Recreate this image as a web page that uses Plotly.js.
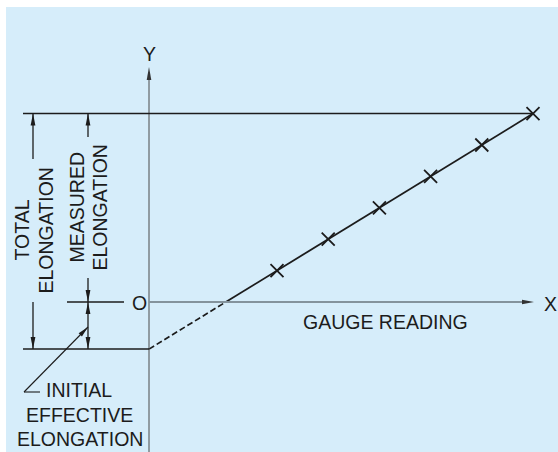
<!DOCTYPE html>
<html><head><meta charset="utf-8">
<script src="https://cdn.plot.ly/plotly-3.0.1.min.js"></script>
<style>html,body{margin:0;padding:0;background:#fff}#chart{width:558px;height:452px}</style>
</head><body><div id="chart"></div>
<script>
// ---- data (gauge reading vs elongation) ----
const gaugeReading = [2.5, 3.5, 4.5, 5.5, 6.5, 7.5];
const elongation   = [1.0, 2.0, 3.0, 4.0, 5.0, 6.0];
const axisLabels   = {x: 'X', y: 'Y', origin: 'O', xTitle: 'GAUGE READING'};
const dimLabels    = {total: ['TOTAL', 'ELONGATION'], measured: ['MEASURED', 'ELONGATION'],
                      initial: ['INITIAL', 'EFFECTIVE', 'ELONGATION']};

// ---- least-squares line through the readings ----
const n = gaugeReading.length;
const mx = gaugeReading.reduce((a, b) => a + b, 0) / n;
const my = elongation.reduce((a, b) => a + b, 0) / n;
let sxy = 0, sxx = 0;
for (let i = 0; i < n; i++) { sxy += (gaugeReading[i] - mx) * (elongation[i] - my); sxx += (gaugeReading[i] - mx) ** 2; }
const slope = sxy / sxx;
const intercept = my - slope * mx;          // initial effective elongation (negative)
const xCross = -intercept / slope;          // where the line meets the gauge axis
const totalElong = elongation[n - 1];
const lastGauge = gaugeReading[n - 1];

// ---- layout geometry (pixel frame of the drawing) ----
const W = 558, H = 452, OX = 149, OY = 302, KX = 51.2, KY = 31.4;
const X = px => (px - OX) / KX;
const Y = py => (OY - py) / KY;
const INK = '#1c1c1c';
const FONT = {family: 'Liberation Sans, Arial, sans-serif', size: 19.5, color: INK};

function line(x0, y0, x1, y1, color, width) {
  return {type: 'line', xref: 'x', yref: 'y', x0, y0, x1, y1, line: {color: color || INK, width: width || 1.4}};
}
function head(xt, yt, dxp, dyp, len, hw, color) {
  len = len || 12; hw = hw || 2.4;
  const m = Math.hypot(dxp, dyp), ux = dxp / m, uy = dyp / m;
  const tx = OX + xt * KX, ty = OY - yt * KY;
  const bx = tx - ux * len, by = ty - uy * len;
  const p1 = [bx - uy * hw, by + ux * hw], p2 = [bx + uy * hw, by - ux * hw];
  const path = `M${xt},${yt} L${X(p1[0])},${Y(p1[1])} L${X(p2[0])},${Y(p2[1])} Z`;
  return {type: 'path', xref: 'x', yref: 'y', path, fillcolor: color || INK, line: {width: 0}};
}

const xTotal = X(33), xMeas = X(88), xLeft = X(23);
const shapes = [
  {type: 'rect', xref: 'paper', yref: 'paper', x0: 6 / W, x1: 1, y0: 0, y1: 1 - 7 / H,
   fillcolor: '#d6edfa', line: {width: 0}, layer: 'below'},
  // Y axis
  line(0, Y(H), 0, Y(72), '#4a4a4a', 1),
  head(0, Y(67), 0, -1, 13, 2.3, '#333'),
  // X axis
  line(0, 0, X(524), 0, '#84939c', 2),
  head(X(534), 0, 1, 0, 12, 2.3, '#333'),
  // horizontal extension lines
  line(xLeft, totalElong, lastGauge, totalElong, INK, 1.5),
  line(xLeft, intercept, 0, intercept, INK, 1.5),
  line(X(67), 0, X(124), 0, INK, 1.4),
  // total elongation dimension
  line(xTotal, totalElong, xTotal, Y(159), INK, 1.3),
  head(xTotal, totalElong, 0, -1),
  line(xTotal, 0, xTotal, intercept, INK, 1.3),
  head(xTotal, intercept, 0, 1),
  // measured elongation dimension
  line(xMeas, totalElong, xMeas, Y(137), INK, 1.3),
  head(xMeas, totalElong, 0, -1),
  line(xMeas, Y(278), xMeas, intercept, INK, 1.3),
  head(xMeas, 0, 0, 1),
  head(xMeas, 0, 0, -1),
  head(xMeas, intercept, 0, 1),
  // leader for initial effective elongation
  line(X(24), Y(392), xMeas, Y(327), INK, 1.1),
  head(xMeas, Y(327), 64, -65, 11, 2.3),
  line(X(24), Y(392), X(40), Y(392), INK, 1.1)
];

const ann = (text, x, y, extra) => Object.assign({text, x, y, xref: 'x', yref: 'y', showarrow: false,
  font: FONT, xanchor: 'center', yanchor: 'middle'}, extra || {});
const annotations = [
  ann(axisLabels.y, 0, Y(54)),
  ann(axisLabels.x, X(550.5), Y(303.5)),
  ann(axisLabels.origin, X(139.5), Y(303)),
  ann(axisLabels.xTitle, X(385), Y(321.5)),
  ann(dimLabels.total[0], X(21.5), Y(230), {textangle: -90}),
  ann(dimLabels.total[1], X(45.5), Y(231), {textangle: -90}),
  ann(dimLabels.measured[0], X(76), Y(207.5), {textangle: -90}),
  ann(dimLabels.measured[1], X(99.5), Y(208), {textangle: -90}),
  ann(dimLabels.initial[0], X(79), Y(390)),
  ann(dimLabels.initial[1], X(79), Y(415)),
  ann(dimLabels.initial[2], X(79.5), Y(438.5))
];

const traces = [
  {x: [0, xCross], y: [intercept, 0], mode: 'lines', line: {color: INK, width: 1.7, dash: '6px,3px'}, hoverinfo: 'skip'},
  {x: [xCross].concat(gaugeReading), y: [0].concat(elongation), mode: 'lines',
   line: {color: INK, width: 1.8}, hoverinfo: 'skip'},
  {x: gaugeReading, y: elongation, mode: 'markers',
   marker: {symbol: 'x-thin-open', size: 13, color: INK, line: {color: INK, width: 1.8}}}
];

const layout = {
  width: W, height: H, margin: {l: 0, r: 0, t: 0, b: 0, pad: 0},
  paper_bgcolor: '#ffffff', plot_bgcolor: 'rgba(0,0,0,0)', showlegend: false,
  xaxis: {range: [X(0), X(W)], visible: false, fixedrange: true},
  yaxis: {range: [Y(H), Y(0)], visible: false, fixedrange: true},
  shapes, annotations
};
Plotly.newPlot('chart', traces, layout, {displayModeBar: false, staticPlot: true});
</script></body></html>
